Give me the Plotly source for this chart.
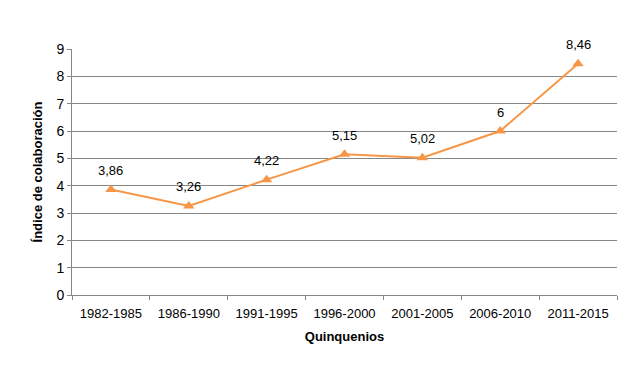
import plotly.graph_objects as go

categories = ["1982-1985", "1986-1990", "1991-1995", "1996-2000", "2001-2005", "2006-2010", "2011-2015"]
values = [3.86, 3.26, 4.22, 5.15, 5.02, 6, 8.46]
labels = ["3,86", "3,26", "4,22", "5,15", "5,02", "6", "8,46"]
y_ticks = [0, 1, 2, 3, 4, 5, 6, 7, 8, 9]

orange = "#F79646"
grid = "#868686"
font = "Liberation Sans"

fig = go.Figure()
fig.add_trace(go.Scatter(
    x=categories, y=values, mode="lines+markers",
    line=dict(color=orange, width=2),
    marker=dict(symbol="triangle-up", size=10, color=orange),
    hoverinfo="skip",
))
for c, v, t in zip(categories, values, labels):
    fig.add_annotation(x=c, y=v, text=t, showarrow=False, yshift=19,
                       font=dict(family=font, size=13, color="#000000"))

fig.update_layout(
    width=644, height=388,
    margin=dict(l=64, r=35, t=41, b=101),
    paper_bgcolor="white", plot_bgcolor="white",
    showlegend=False,
    font=dict(family=font, size=13, color="#000000"),
)
fig.update_xaxes(
    type="category", tickson="boundaries", ticks="outside", ticklen=4,
    tickcolor=grid, showgrid=False, showline=True, linecolor=grid,
    tickfont=dict(family=font, size=13), ticklabelstandoff=6,
    title=dict(text="<b>Quinquenios</b>", font=dict(family=font, size=13), standoff=12),
    range=[-0.5, 6.5],
)
fig.update_yaxes(
    range=[0, 9], tickvals=y_ticks, ticks="outside", ticklen=4, tickcolor=grid,
    showgrid=True, gridcolor=grid, gridwidth=1, showline=True, linecolor=grid,
    zeroline=False, tickfont=dict(family=font, size=14),
    title=dict(text="<b>Índice de colaboración</b>", font=dict(family=font, size=13), standoff=10),
)

fig.write_html("out.html")
